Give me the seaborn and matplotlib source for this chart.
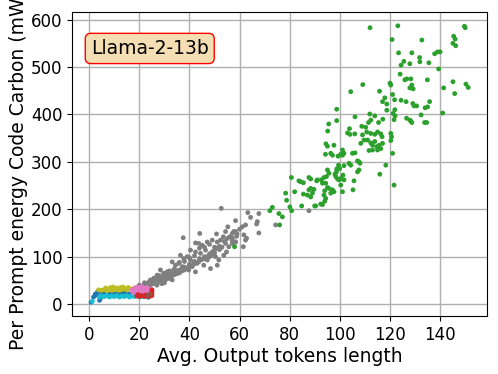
import matplotlib
matplotlib.use("Agg")
import matplotlib.pyplot as plt
import seaborn as sns
import pandas as pd

# values
blue_x = [0.7, 1.7, 2.4, 3.3, 4.1, 4.4, 5, 6, 7, 8, 9, 10, 11, 12, 13, 14, 15, 16, 17, 18, 19, 20, 21, 5, 6, 8, 3, 10, 14]
blue_y = [4, 15, 21, 26, 8, 12, 22, 20, 23, 21, 24, 22, 23, 21, 24, 22, 23, 21, 22, 20, 22, 21, 20, 17, 25, 18, 19, 25, 25]

olive_x = [3.7, 5, 6, 6.5, 7, 8, 8.5, 9, 10, 10.5, 11, 12, 12.5, 13, 14, 15, 15.5, 16, 17, 18, 9.5, 13.5]
olive_y = [30, 29, 31, 34, 28, 32, 35, 29, 33, 30, 34, 29, 35, 31, 32, 30, 35, 33, 31, 34, 36, 36]

cyan_x = [1.2, 4, 5, 6, 7, 8, 9, 10, 11, 12, 13, 14, 15, 16, 17, 18, 19, 20, 21, 22, 23.5]
cyan_y = [6, 15, 17, 16, 18, 15, 17, 16, 18, 15, 17, 16, 18, 15, 17, 16, 18, 15, 16, 17, 14]

gray_x = [52.7, 37.5, 44.1, 50.8, 53.5, 54.4, 55.3, 57.1, 58.4, 42.4, 43.7, 45.1, 47.1, 49.1,
          51.1, 52.4, 54.4, 55.7, 57.1, 58.4, 40.4, 42.4, 44.4, 46.4, 47.7, 49.1, 50.4, 51.7,
          53.7, 54.8, 36.4, 37.7, 39.1, 40.4, 41.7, 43.7, 45.7, 47.1, 48.4, 51.1, 33.1, 34.4,
          35.7, 37.1, 38.4, 39.7, 41.1, 42.4, 33.7, 35.1, 28.4, 29.7, 31.1, 32.4, 27.1, 25.7,
          24.4, 28.4, 30.4, 31.7, 33.1, 23.1, 21.7, 63.3, 67.7, 64.4, 58.4, 67.1, 66.8, 62.4,
          61.1, 57.7, 58.8, 57.1, 61.7, 62.8, 62.4, 58.4, 57.1, 67.7, 74.4, 87.7, 61.5,
          20, 22, 24, 25, 26, 27, 28, 30, 23, 21, 24, 26, 29, 31, 33, 35, 32, 34, 36, 38,
          40, 42, 44, 46, 48, 50, 52, 30, 27, 29,
          22, 23, 25, 26, 27, 28, 29, 30, 31, 32, 33, 34, 35, 36, 37, 38, 39, 40, 41, 42,
          43, 44, 45, 46, 47, 48, 49, 50, 51, 52, 53, 54, 55, 56, 57, 59, 60, 36, 34, 32,
          44, 46, 48, 50, 38, 40, 42, 30, 28, 26]
gray_y = [202, 140, 149, 148, 142, 153, 163, 149, 153, 129, 128, 124, 131, 135,
          131, 135, 128, 121, 128, 131, 114, 110, 107, 114, 103, 110, 100, 93,
          103, 110, 103, 96, 100, 93, 86, 89, 82, 93, 75, 82, 89, 82,
          86, 79, 75, 72, 79, 68, 72, 68, 72, 65, 68, 61, 61, 54,
          51, 54, 51, 54, 51, 44, 40, 193, 191, 183, 176, 174, 169, 167,
          163, 153, 143, 139, 146, 139, 135, 131, 129, 150, 167, 197, 121,
          40, 45, 48, 42, 50, 55, 47, 58, 36, 33, 38, 44, 52, 60, 64, 70, 56, 62, 66, 72,
          80, 85, 92, 96, 100, 108, 115, 45, 40, 43,
          38, 42, 46, 48, 52, 50, 56, 54, 57, 63, 60, 66, 64, 72, 70, 78, 76, 84, 82, 90,
          86, 96, 94, 100, 98, 106, 104, 114, 118, 122, 120, 132, 138, 142, 135, 148, 158, 88, 74, 70,
          118, 120, 126, 120, 90, 98, 102, 62, 60, 55]

pink_x = [17, 18, 19, 20, 21, 22, 23, 24, 25, 18.5, 19.5, 20.5, 21.5, 22.5, 23.5, 24.5, 17.5, 20, 22, 24]
pink_y = [30, 33, 36, 34, 37, 33, 35, 31, 30, 26, 28, 25, 29, 27, 26, 28, 24, 22, 23, 24]

red_x = [19, 20, 21, 22, 23, 24, 25, 25, 25, 25, 24.5, 19.5, 22.5]
red_y = [17, 16, 18, 16, 17, 16, 18, 22, 26, 30, 20, 20, 19]

brown_x = [23.5, 24.2]
brown_y = [19, 21]

green_x = [112.1, 123.2, 149.8, 150.1, 145.5, 146.1, 120.9, 132.8, 145.2, 146.3, 123.5, 128.8,
           137.9, 139.1, 140.1, 131.9, 125.6, 132.0, 128.0, 124.5, 135.6, 139.5, 124.1, 126.8,
           128.4, 126.0, 109.2, 120.1, 120.4, 135.0, 128.8, 128.0, 129.3, 141.5, 145.2, 150.4,
           151.3, 145.9, 115.9, 121.1, 118.0, 117.1, 118.8, 121.9, 124.5, 126.5, 129.2, 129.7,
           130.7, 135.9, 134.1, 135.1, 141.1, 118.8, 122.0, 121.3, 122.1, 112.0, 114.0, 132.5,
           112.4, 111.5, 115.5, 117.2, 121.7, 126.7, 128.0, 128.4, 128.8, 133.9, 134.7,
           98.8, 106.1, 95.6, 95.2, 103.9, 103.1, 104.1, 106.0, 108.8, 110.4, 110.8, 112.4,
           114.0, 115.1, 116.4, 116.9, 120.4, 120.7, 109.1, 109.7, 108.4, 111.1, 112.4, 113.1,
           114.0, 114.8, 115.7, 116.4, 115.1, 117.1, 111.7, 113.1, 120.4, 121.1, 118.4, 116.0,
           121.7, 94.5, 95.1, 94.3, 97.7, 96.4, 97.1, 101.1, 101.7, 101.1, 100.4, 99.3, 105.1,
           106.1, 107.1, 107.7, 108.1, 103.7, 104.4, 101.7, 99.5, 100.0, 98.8, 98.7, 98.1,
           98.4, 99.1, 99.7, 100.4, 101.7, 101.3, 100.4, 101.1, 107.1, 107.7, 105.7, 105.3,
           95.1, 95.7, 94.7, 93.7, 92.7, 93.1, 91.1, 88.4, 94.4, 95.1, 94.0, 95.7, 97.1, 97.7,
           96.4, 93.7, 94.4, 94.0, 89.7, 88.4, 87.7, 89.1, 88.4, 87.1, 85.5, 90.4, 92.4,
           80.7, 83.7, 84.4, 85.5, 87.7, 90.8, 82.0, 78.4, 78.8, 84.8, 90.0, 93.1, 80.1, 80.8,
           73.1, 72.1, 75.7, 77.1, 76.0, 58.0, 104.4, 98.8]
green_y = [583, 587, 586, 583, 565, 559, 558, 557, 550, 545, 530, 530,
           528, 532, 532, 520, 512, 511, 507, 504, 509, 496, 485, 475,
           475, 473, 463, 466, 462, 473, 462, 456, 454, 456, 469, 464,
           457, 444, 449, 442, 435, 427, 422, 431, 430, 427, 423, 418,
           418, 427, 414, 416, 403, 409, 410, 402, 397, 401, 397, 399,
           388, 383, 383, 390, 389, 392, 388, 386, 383, 383, 383,
           411, 395, 380, 365, 370, 361, 358, 359, 375, 373, 363, 360,
           358, 363, 359, 353, 360, 353, 357, 346, 339, 346, 340, 335,
           343, 332, 335, 328, 325, 339, 324, 325, 345, 318, 293, 274,
           251, 338, 333, 316, 335, 318, 314, 325, 318, 314, 316, 312, 318,
           319, 302, 300, 297, 297, 293, 292, 293, 286, 285, 279, 274,
           269, 264, 262, 265, 262, 272, 251, 237, 279, 283, 260, 241,
           283, 276, 269, 267, 262, 255, 262, 264, 255, 246, 239, 244, 241, 237,
           234, 230, 223, 217, 242, 244, 241, 234, 226, 230, 232, 207, 211,
           267, 260, 258, 256, 267, 260, 237, 234, 219, 207, 207, 210, 205, 197,
           204, 197, 191, 184, 167, 121, 448, 387]

groups = [
    ("gray", gray_x, gray_y),
    ("green", green_x, green_y),
    ("blue", blue_x, blue_y),
    ("olive", olive_x, olive_y),
    ("cyan", cyan_x, cyan_y),
    ("pink", pink_x, pink_y),
    ("red", red_x, red_y),
    ("brown", brown_x, brown_y),
]
df = pd.concat([pd.DataFrame({"tokens": xs, "energy": ys, "group": name}) for name, xs, ys in groups],
               ignore_index=True)
palette = {"gray": "tab:gray", "green": "tab:green", "blue": "tab:blue", "olive": "tab:olive",
           "cyan": "tab:cyan", "pink": "tab:pink", "red": "tab:red", "brown": "tab:brown"}

fig, ax = plt.subplots(figsize=(4.98, 3.74), dpi=100)
sns.scatterplot(data=df, x="tokens", y="energy", hue="group", palette=palette,
                s=12, linewidth=0, legend=False, ax=ax, zorder=3)
ax.set_xlabel("Avg. Output tokens length", fontsize=13.5, labelpad=2)
ax.set_ylabel("Per Prompt energy Code Carbon (mWh)", fontsize=13.5, labelpad=2)
ax.tick_params(labelsize=12)
ax.set_xticks(range(0, 141, 20))
ax.set_yticks(range(0, 601, 100))
ax.grid(True, color="#b0b0b0", linewidth=1.0)
ax.set_axisbelow(True)
ax.text(0.045, 0.88, "Llama-2-13b", transform=ax.transAxes, fontsize=13.5,
        ha="left", va="center",
        bbox=dict(boxstyle="round", facecolor="wheat", edgecolor="red"))
fig.subplots_adjust(left=0.145, right=0.978, bottom=0.155, top=0.968)
fig.savefig("out.png", dpi=100)
plt.close()
